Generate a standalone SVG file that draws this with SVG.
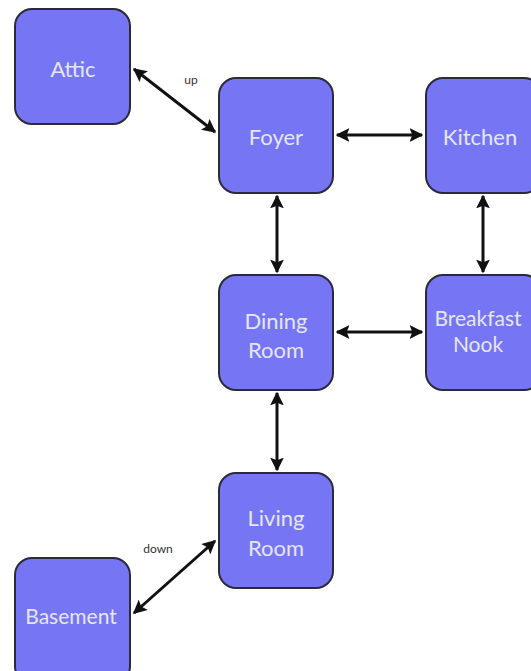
<svg xmlns="http://www.w3.org/2000/svg" width="531" height="671" viewBox="0 0 531 671">
<style>
.n rect{fill:#7676f4;stroke:#2a2a3a;stroke-width:2}
.n text{fill:#e6e6f2;font-family:Lato,"Open Sans",sans-serif;font-size:22px;text-anchor:middle}
.c line{stroke:#111;stroke-width:3;marker-start:url(#a);marker-end:url(#a)}
.l{fill:#333;font-family:Lato,"Liberation Sans",sans-serif;font-size:12px;text-anchor:middle}
</style>
<defs>
<marker id="a" viewBox="0 0 10 10" refX="9" refY="5" markerWidth="4.6" markerHeight="4.6" orient="auto-start-reverse" markerUnits="strokeWidth">
<path d="M0,0L10,5L0,10L2,5z" fill="#111"/>
</marker>
</defs>
<rect width="531" height="671" fill="#fff"/>
<g class="c">
<line x1="134" y1="69" x2="215" y2="132"/>
<line x1="337" y1="135" x2="422" y2="135"/>
<line x1="277" y1="196" x2="277" y2="272"/>
<line x1="483" y1="196" x2="483" y2="272"/>
<line x1="337" y1="332" x2="422" y2="332"/>
<line x1="277" y1="393" x2="277" y2="470"/>
<line x1="215" y1="541" x2="134" y2="613"/>
</g>
<text class="l" x="191" y="84">up</text>
<text class="l" x="158" y="553">down</text>
<g id="attic" class="n"><rect x="15" y="9" width="115" height="115" rx="17"/><text x="73" y="77">Attic</text></g>
<g id="foyer" class="n"><rect x="219" y="78" width="114" height="115" rx="17"/><text x="276" y="145">Foyer</text></g>
<g id="kitchen" class="n"><rect x="426" y="78" width="115" height="115" rx="17"/><text x="480" y="145">Kitchen</text></g>
<g id="dining" class="n"><rect x="219" y="275" width="114" height="115" rx="17"/><text x="276" y="329">Dining</text><text x="276" y="358">Room</text></g>
<g id="nook" class="n"><rect x="426" y="275" width="115" height="115" rx="17"/><text x="478" y="326" style="font-size:21px">Breakfast</text><text x="478" y="352" style="font-size:21px">Nook</text></g>
<g id="living" class="n"><rect x="219" y="473" width="114" height="115" rx="17"/><text x="276" y="526">Living</text><text x="276" y="556">Room</text></g>
<g id="basement" class="n"><rect x="15" y="558" width="115" height="125" rx="17"/><text x="71" y="624" style="font-size:21px">Basement</text></g>
</svg>
